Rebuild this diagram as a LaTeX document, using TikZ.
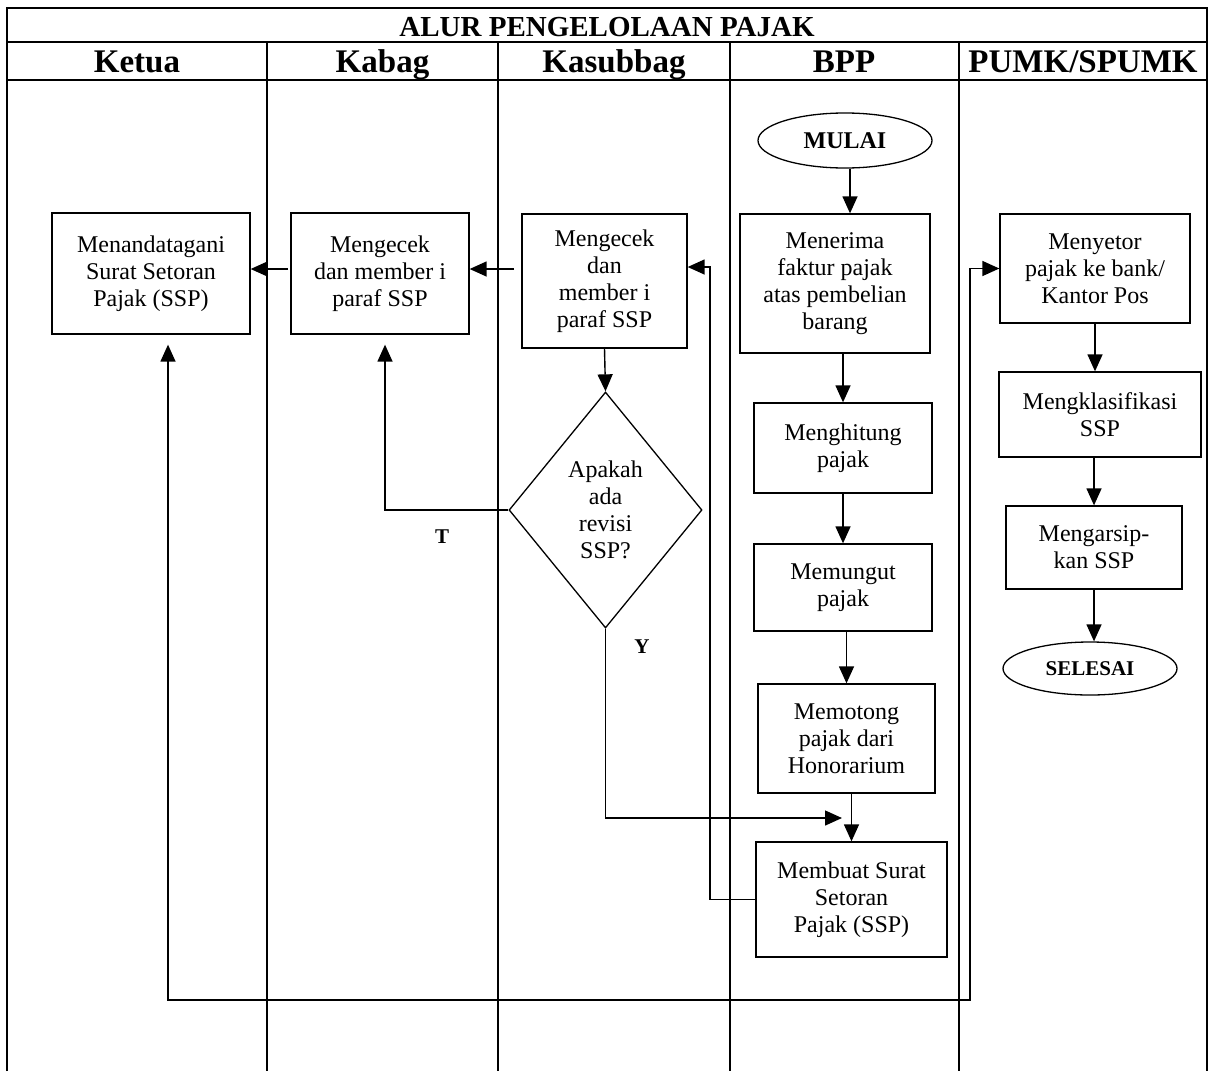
\documentclass[tikz,border=0pt]{standalone}
\usepackage{fontspec}
\setmainfont{Liberation Serif}
\usetikzlibrary{shapes.geometric,arrows.meta,calc}
\begin{document}
\begin{tikzpicture}[x=1pt,y=-1pt,
  grid/.style={line width=2pt},
  box/.style={draw,line width=1.3pt,inner sep=0pt,align=center,
    font=\fontsize{24}{27}\selectfont},
  term/.style={draw,ellipse,line width=1.3pt,inner sep=0pt,
    font=\fontsize{24}{27}\selectfont\bfseries},
  decision/.style={draw,diamond,line width=1.3pt,inner sep=0pt,align=center,
    font=\fontsize{24}{27}\selectfont},
  lanehead/.style={anchor=base,font=\fontsize{33}{36}\selectfont\bfseries},
  tag/.style={font=\fontsize{21}{24}\selectfont\bfseries},
  tip/.tip={Triangle[length=17pt,width=15pt]},
  arr/.style={line width=1.4pt,-tip},
  link/.style={line width=1.4pt}
]
\useasboundingbox (0,0) rectangle (1212,1071);

% table frame and swimlanes
\draw[grid] (7,1071) -- (7,8) -- (1207,8) -- (1207,1071);
\draw[grid] (7,42) -- (1207,42);
\draw[grid] (7,80) -- (1207,80);
\foreach \lx in {267,498,730,958.5}
  \draw[grid] (\lx,42) -- (\lx,1071);

\node[anchor=base,font=\fontsize{29}{32}\selectfont\bfseries] (title) at (607,36.5)
  {ALUR PENGELOLAAN PAJAK};
\node[lanehead] (hketua) at (137,72.7) {Ketua};
\node[lanehead] (hkabag) at (382.5,72.7) {Kabag};
\node[lanehead] (hkasub) at (614,72.7) {Kasubbag};
\node[lanehead] (hbpp) at (844,72.7) {BPP};
\node[lanehead] (hpumk) at (1083,72.7) {PUMK/SPUMK};

% process steps
\node[box,minimum width=198pt,minimum height=121pt] (ketua) at (151,273.5)
  {Menandatagani\\Surat Setoran\\Pajak (SSP)};
\node[box,minimum width=178pt,minimum height=121pt] (kabag) at (380,273.5)
  {Mengecek\\dan member i\\paraf SSP};
\node[box,minimum width=165pt,minimum height=134pt] (kasub) at (604.5,281)
  {Mengecek\\dan\\member i\\paraf SSP};
\node[decision,minimum width=193pt,minimum height=236pt] (dia) at (605.5,510)
  {Apakah\\ada\\revisi\\SSP?};

\node[term,minimum width=174pt,minimum height=55pt] (mulai) at (845,140.5) {MULAI};
\node[box,minimum width=190pt,minimum height=139pt] (terima) at (835,283.5)
  {Menerima\\faktur pajak\\atas pembelian\\barang};
\node[box,minimum width=178pt,minimum height=90pt] (hitung) at (843,448)
  {Menghitung\\pajak};
\node[box,minimum width=178pt,minimum height=87pt] (pungut) at (843,587.5)
  {Memungut\\pajak};
\node[box,minimum width=177pt,minimum height=109pt] (potong) at (846.5,738.5)
  {Memotong\\pajak dari\\Honorarium};
\node[box,minimum width=191pt,minimum height=115pt] (buat) at (851.5,899.5)
  {Membuat Surat\\Setoran\\Pajak (SSP)};

\node[box,minimum width=190pt,minimum height=109pt] (setor) at (1095,268.5)
  {Menyetor\\pajak ke bank/\\Kantor Pos};
\node[box,minimum width=202pt,minimum height=85pt] (klas) at (1100,414.5)
  {Mengklasifikasi\\SSP};
\node[box,minimum width=176pt,minimum height=83pt] (arsip) at (1094,547.5)
  {Mengarsip-\\kan SSP};
\node[term,minimum width=174pt,minimum height=53pt,
  font=\fontsize{21}{25}\selectfont\bfseries] (selesai) at (1090,668.5) {SELESAI};

\node[tag] (tno) at (442,537) {T};
\node[tag] (tyes) at (642,647) {Y};

% connectors
\coordinate (kasubin) at (710,267);
\coordinate (kabagin) at (514,269);
\coordinate (ketuain) at (288,269);
\coordinate (yjoin) at (842,818);
\coordinate (backbottom) at (970,1000);

\draw[arr] ([xshift=5pt]mulai.south) -- ([xshift=15pt]terima.north);
\draw[arr] (terima.south -| hitung.north) -- (hitung.north);
\draw[arr] (hitung.south) -- (pungut.north);
\draw[arr] (pungut.south -| potong.north) -- (potong.north);
\draw[arr] (potong.south -| buat.north) -- (buat.north);

\draw[arr] (buat.west) -| (kasubin) -- (kasubin -| kasub.east);
\draw[arr] (kabagin) -- (kabagin -| kabag.east);
\draw[arr] (ketuain) -- (ketuain -| ketua.east);
\draw[arr] (kasub.south) -- (dia.north);
\draw[arr,shorten >=10pt] (dia.west) -| ([xshift=5pt]kabag.south);
\draw[arr] (dia.south) |- (yjoin);

\draw[link,tip-tip,shorten <=10pt]
  ([xshift=17pt]ketua.south) |- (backbottom) |- (setor.west);

\draw[arr] (setor.south) -- (setor.south |- klas.north);
\draw[arr] (arsip.north |- klas.south) -- (arsip.north);
\draw[arr] (arsip.south) -- (arsip.south |- selesai.north);
\end{tikzpicture}
\end{document}
